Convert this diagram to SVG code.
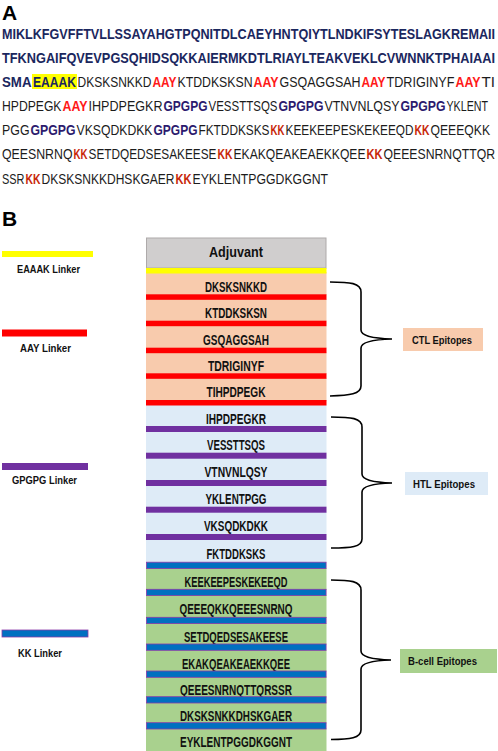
<svg xmlns="http://www.w3.org/2000/svg" width="498" height="751" viewBox="0 0 498 751">
<style>
text{font-family:"Liberation Sans",Arial,sans-serif}
.seq{font-size:15.5px;fill:#1c1c1c}
.nv{font-size:15px;font-weight:bold;fill:#1b275e}
.aay{font-size:15.5px;font-weight:bold;fill:#ff1a1a}
.gp{font-size:15.5px;font-weight:bold;fill:#2c1b6e}
.kk{font-size:15.5px;font-weight:bold;fill:#c8280a}
.hd{font-size:21px;font-weight:bold;fill:#000}
.ep{font-size:14px;font-weight:bold;fill:#111;text-anchor:middle}
.lg{font-size:11.5px;font-weight:bold;fill:#111;text-anchor:middle}
.lb{font-size:11.5px;font-weight:bold;fill:#111}
.ctl{fill:#f8cbad}.htl{fill:#deebf7}.bc{fill:#a9d18e}
.red{fill:#ff0000}.pur{fill:#7030a0}.blu{fill:#0070c0;stroke:#8a3aa8;stroke-width:0.8}.yel{fill:#ffff00}
.brace{fill:none;stroke:#000;stroke-width:1.6}
</style>
<g id="panelA">
<text class="hd" x="2" y="20">A</text>
<text class="nv" x="2" y="39" textLength="493" lengthAdjust="spacingAndGlyphs">MIKLKFGVFFTVLLSSAYAHGTPQNITDLCAEYHNTQIYTLNDKIFSYTESLAGKREMAII</text>
<text class="nv" x="2" y="63" textLength="493" lengthAdjust="spacingAndGlyphs">TFKNGAIFQVEVPGSQHIDSQKKAIERMKDTLRIAYLTEAKVEKLCVWNNKTPHAIAAI</text>
<rect x="32" y="74" width="45" height="15" class="yel"/>
<g id="line3">
<text class="nv" x="2" y="87" textLength="29.5" lengthAdjust="spacingAndGlyphs">SMA</text>
<text class="nv" x="33" y="87" textLength="43" lengthAdjust="spacingAndGlyphs">EAAAK</text>
<text class="seq" x="77.5" y="87" textLength="74" lengthAdjust="spacingAndGlyphs">DKSKSNKKD</text>
<text class="aay" x="152.5" y="87" textLength="24" lengthAdjust="spacingAndGlyphs">AAY</text>
<text class="seq" x="177.5" y="87" textLength="75" lengthAdjust="spacingAndGlyphs">KTDDKSKSN</text>
<text class="aay" x="253.5" y="87" textLength="25" lengthAdjust="spacingAndGlyphs">AAY</text>
<text class="seq" x="279.5" y="87" textLength="81" lengthAdjust="spacingAndGlyphs">GSQAGGSAH</text>
<text class="aay" x="361.5" y="87" textLength="24" lengthAdjust="spacingAndGlyphs">AAY</text>
<text class="seq" x="386.5" y="87" textLength="68" lengthAdjust="spacingAndGlyphs">TDRIGINYF</text>
<text class="aay" x="455.5" y="87" textLength="25" lengthAdjust="spacingAndGlyphs">AAY</text>
<text class="seq" x="481.5" y="87" textLength="13.5" lengthAdjust="spacingAndGlyphs">TI</text>
</g>
<g id="line4">
<text class="seq" x="2" y="111" textLength="59.5" lengthAdjust="spacingAndGlyphs">HPDPEGK</text>
<text class="aay" x="62.5" y="111" textLength="25" lengthAdjust="spacingAndGlyphs">AAY</text>
<text class="seq" x="88.5" y="111" textLength="74" lengthAdjust="spacingAndGlyphs">IHPDPEGKR</text>
<text class="gp" x="163.5" y="111" textLength="44" lengthAdjust="spacingAndGlyphs">GPGPG</text>
<text class="seq" x="208.5" y="111" textLength="69" lengthAdjust="spacingAndGlyphs">VESSTTSQS</text>
<text class="gp" x="278.5" y="111" textLength="45" lengthAdjust="spacingAndGlyphs">GPGPG</text>
<text class="seq" x="324.5" y="111" textLength="75" lengthAdjust="spacingAndGlyphs">VTNVNLQSY</text>
<text class="gp" x="400.5" y="111" textLength="45" lengthAdjust="spacingAndGlyphs">GPGPG</text>
<text class="seq" x="446.5" y="111" textLength="41.5" lengthAdjust="spacingAndGlyphs">YKLENT</text>
</g>
<g id="line5">
<text class="seq" x="2" y="135" textLength="27.5" lengthAdjust="spacingAndGlyphs">PGG</text>
<text class="gp" x="30.5" y="135" textLength="45" lengthAdjust="spacingAndGlyphs">GPGPG</text>
<text class="seq" x="76.5" y="135" textLength="76" lengthAdjust="spacingAndGlyphs">VKSQDKDKK</text>
<text class="gp" x="153.5" y="135" textLength="44" lengthAdjust="spacingAndGlyphs">GPGPG</text>
<text class="seq" x="198.5" y="135" textLength="71" lengthAdjust="spacingAndGlyphs">FKTDDKSKS</text>
<text class="kk" x="270.5" y="135" textLength="14" lengthAdjust="spacingAndGlyphs">KK</text>
<text class="seq" x="285.5" y="135" textLength="128" lengthAdjust="spacingAndGlyphs">KEEKEEPESKEKEEQD</text>
<text class="kk" x="414.5" y="135" textLength="15" lengthAdjust="spacingAndGlyphs">KK</text>
<text class="seq" x="430.5" y="135" textLength="59.5" lengthAdjust="spacingAndGlyphs">QEEEQKK</text>
</g>
<g id="line6">
<text class="seq" x="2" y="159" textLength="70.5" lengthAdjust="spacingAndGlyphs">QEESNRNQ</text>
<text class="kk" x="73.5" y="159" textLength="14" lengthAdjust="spacingAndGlyphs">KK</text>
<text class="seq" x="88.5" y="159" textLength="128" lengthAdjust="spacingAndGlyphs">SETDQEDSESAKEESE</text>
<text class="kk" x="217.5" y="159" textLength="15" lengthAdjust="spacingAndGlyphs">KK</text>
<text class="seq" x="233.5" y="159" textLength="132" lengthAdjust="spacingAndGlyphs">EKAKQEAKEAEKKQEE</text>
<text class="kk" x="366.5" y="159" textLength="16" lengthAdjust="spacingAndGlyphs">KK</text>
<text class="seq" x="383.5" y="159" textLength="111.5" lengthAdjust="spacingAndGlyphs">QEEESNRNQTTQR</text>
</g>
<g id="line7">
<text class="seq" x="2" y="184" textLength="22.5" lengthAdjust="spacingAndGlyphs">SSR</text>
<text class="kk" x="25.5" y="184" textLength="15" lengthAdjust="spacingAndGlyphs">KK</text>
<text class="seq" x="41.5" y="184" textLength="133" lengthAdjust="spacingAndGlyphs">DKSKSNKKDHSKGAER</text>
<text class="kk" x="175.5" y="184" textLength="16" lengthAdjust="spacingAndGlyphs">KK</text>
<text class="seq" x="192.5" y="184" textLength="135.5" lengthAdjust="spacingAndGlyphs">EYKLENTPGGDKGGNT</text>
</g>
</g>
<text class="hd" x="2" y="226">B</text>
<g id="legend">
<g id="leg-eaaak"><rect x="2" y="251" width="91" height="6" class="yel"/><text class="lg" x="48.5" y="273" textLength="63" lengthAdjust="spacingAndGlyphs">EAAAK Linker</text></g>
<g id="leg-aay"><rect x="2" y="329.5" width="85" height="7" class="red"/><text class="lg" x="45.5" y="352" textLength="51" lengthAdjust="spacingAndGlyphs">AAY Linker</text></g>
<g id="leg-gpgpg"><rect x="2" y="463" width="86" height="7" class="pur"/><text class="lg" x="44.5" y="484" textLength="65" lengthAdjust="spacingAndGlyphs">GPGPG Linker</text></g>
<g id="leg-kk"><rect x="2" y="630" width="86" height="7" class="blu"/><text class="lg" x="40" y="657" textLength="44" lengthAdjust="spacingAndGlyphs">KK Linker</text></g>
</g>
<g id="adjuvant"><rect x="146.5" y="238" width="179.5" height="30" fill="#d0cece" stroke="#aeaaaa" stroke-width="1"/><text class="ep" x="236" y="257" textLength="54" lengthAdjust="spacingAndGlyphs">Adjuvant</text></g>
<g id="ctl">
<g id="e1"><rect x="146" y="272" width="180.5" height="23" class="ctl"/><text class="ep" x="236" y="291.6" textLength="62" lengthAdjust="spacingAndGlyphs">DKSKSNKKD</text></g>
<g id="e2"><rect x="146" y="299" width="180.5" height="22" class="ctl"/><text class="ep" x="236" y="318" textLength="62" lengthAdjust="spacingAndGlyphs">KTDDKSKSN</text></g>
<g id="e3"><rect x="146" y="326" width="180.5" height="22" class="ctl"/><text class="ep" x="236" y="344.7" textLength="66" lengthAdjust="spacingAndGlyphs">GSQAGGSAH</text></g>
<g id="e4"><rect x="146" y="352.5" width="180.5" height="21.5" class="ctl"/><text class="ep" x="236" y="371" textLength="56" lengthAdjust="spacingAndGlyphs">TDRIGINYF</text></g>
<g id="e5"><rect x="146" y="378" width="180.5" height="23" class="ctl"/><text class="ep" x="236" y="397.1" textLength="59" lengthAdjust="spacingAndGlyphs">TIHPDPEGK</text></g>
</g>
<g id="htl">
<g id="e6"><rect x="146" y="405" width="180.5" height="21.5" class="htl"/><text class="ep" x="236" y="423.5" textLength="60" lengthAdjust="spacingAndGlyphs">IHPDPEGKR</text></g>
<g id="e7"><rect x="146" y="431.5" width="180.5" height="21.5" class="htl"/><text class="ep" x="236" y="450.1" textLength="58" lengthAdjust="spacingAndGlyphs">VESSTTSQS</text></g>
<g id="e8"><rect x="146" y="458" width="180.5" height="22.5" class="htl"/><text class="ep" x="236" y="477.1" textLength="63" lengthAdjust="spacingAndGlyphs">VTNVNLQSY</text></g>
<g id="e9"><rect x="146" y="485.5" width="180.5" height="21.5" class="htl"/><text class="ep" x="236" y="504.1" textLength="61" lengthAdjust="spacingAndGlyphs">YKLENTPGG</text></g>
<g id="e10"><rect x="146" y="512" width="180.5" height="22.5" class="htl"/><text class="ep" x="236" y="531.1" textLength="64" lengthAdjust="spacingAndGlyphs">VKSQDKDKK</text></g>
<g id="e11"><rect x="146" y="539.5" width="180.5" height="23" class="htl"/><text class="ep" x="236" y="558.8" textLength="59" lengthAdjust="spacingAndGlyphs">FKTDDKSKS</text></g>
</g>
<g id="bcell">
<g id="e12"><rect x="146" y="568" width="180.5" height="22" class="bc"/><text class="ep" x="236" y="586.7" textLength="103" lengthAdjust="spacingAndGlyphs">KEEKEEPESKEKEEQD</text></g>
<g id="e13"><rect x="146" y="595" width="180.5" height="23" class="bc"/><text class="ep" x="236" y="614.2" textLength="113" lengthAdjust="spacingAndGlyphs">QEEEQKKQEEESNRNQ</text></g>
<g id="e14"><rect x="146" y="623" width="180.5" height="21.5" class="bc"/><text class="ep" x="236" y="641.6" textLength="104" lengthAdjust="spacingAndGlyphs">SETDQEDSESAKEESE</text></g>
<g id="e15"><rect x="146" y="650" width="180.5" height="21.5" class="bc"/><text class="ep" x="236" y="668.5" textLength="108" lengthAdjust="spacingAndGlyphs">EKAKQEAKEAEKKQEE</text></g>
<g id="e16"><rect x="146" y="676.5" width="180.5" height="21" class="bc"/><text class="ep" x="236" y="694.8" textLength="112" lengthAdjust="spacingAndGlyphs">QEEESNRNQTTQRSSR</text></g>
<g id="e17"><rect x="146" y="702.5" width="180.5" height="21" class="bc"/><text class="ep" x="236" y="720.7" textLength="112" lengthAdjust="spacingAndGlyphs">DKSKSNKKDHSKGAER</text></g>
<g id="e18"><rect x="146" y="728.5" width="180.5" height="22.5" class="bc"/><text class="ep" x="236" y="747" textLength="112" lengthAdjust="spacingAndGlyphs">EYKLENTPGGDKGGNT</text></g>
</g>
<g id="linkers">
<rect x="146" y="268" width="180.5" height="5.5" class="yel"/>
<rect x="146" y="294.3" width="180.5" height="5.5" class="red"/>
<rect x="146" y="320.7" width="180.5" height="5.5" class="red"/>
<rect x="146" y="347.7" width="180.5" height="5.5" class="red"/>
<rect x="146" y="373.3" width="180.5" height="5.5" class="red"/>
<rect x="146" y="400" width="180.5" height="5.5" class="red"/>
<rect x="146" y="426" width="180.5" height="6" class="pur"/>
<rect x="146" y="452.7" width="180.5" height="6" class="pur"/>
<rect x="146" y="480" width="180.5" height="6" class="pur"/>
<rect x="146" y="506.7" width="180.5" height="6" class="pur"/>
<rect x="146" y="534" width="180.5" height="6" class="pur"/>
<rect x="146.4" y="562.2" width="179.7" height="6.3" class="blu"/>
<rect x="146.4" y="589.3" width="179.7" height="6.3" class="blu"/>
<rect x="146.4" y="617.3" width="179.7" height="6.3" class="blu"/>
<rect x="146.4" y="644" width="179.7" height="6.3" class="blu"/>
<rect x="146.4" y="671" width="179.7" height="6.3" class="blu"/>
<rect x="146.4" y="696.7" width="179.7" height="6.3" class="blu"/>
<rect x="146.4" y="722.7" width="179.7" height="6.3" class="blu"/>
</g>
<g id="connectors">
<path class="brace" d="M330,282 C350,282 361,283 361,292 L361,330 C361,336 374,338.5 392,339 C374,339.5 361,342 361,348 L361,386 C361,394 350,395.5 330,396"/>
<path class="brace" d="M331,417 C351,417 362,418 362,427 L362,474 C362,480 375,482.5 392,483 C375,483.5 362,486 362,492 L362,539 C362,547 351,548 331,548"/>
<path class="brace" d="M331,580 C350,580 361,581 361,590 L361,651 C361,657 374,659.5 391,660 C374,660.5 361,663 361,669 L361,730 C361,738 350,739.5 331,739.5"/>
</g>
<g id="label-ctl"><rect x="403" y="328" width="80" height="23" class="ctl"/><text class="lb" x="412" y="344" textLength="60" lengthAdjust="spacingAndGlyphs">CTL Epitopes</text></g>
<g id="label-htl"><rect x="405" y="472" width="83" height="23" class="htl"/><text class="lb" x="413" y="488" textLength="62" lengthAdjust="spacingAndGlyphs">HTL Epitopes</text></g>
<g id="label-bcell"><rect x="400" y="649" width="97" height="24" class="bc"/><text class="lb" x="408" y="665" textLength="69" lengthAdjust="spacingAndGlyphs">B-cell Epitopes</text></g>
</svg>
